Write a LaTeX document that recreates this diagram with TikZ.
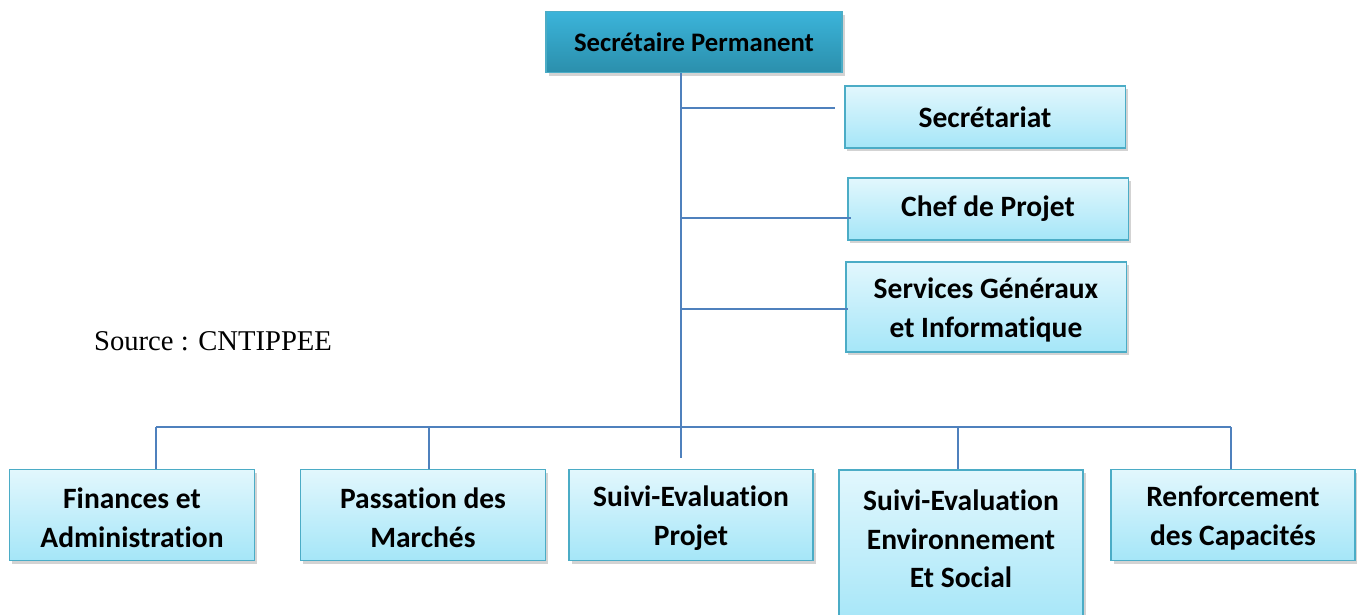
\documentclass[tikz,border=0pt]{standalone}
\usepackage{fontspec}
\setmainfont{Liberation Serif}
\newfontfamily\boxfont[Ligatures=NoCommon]{Carlito}
\usepackage{tikz}
\usetikzlibrary{shadows}
\definecolor{linkblue}{HTML}{4F81BD}
\definecolor{boxedge}{HTML}{4BACC6}
\definecolor{boxtop}{HTML}{E2F7FD}
\definecolor{boxbot}{HTML}{A5E6F8}
\definecolor{headtop}{HTML}{3BB4DA}
\definecolor{headbot}{HTML}{2B8FAC}
\tikzset{
  unit/.style={draw=boxedge, line width=1.1pt, top color=boxtop, bottom color=boxbot,
    align=center, inner sep=0pt,
    font=\boxfont\bfseries\fontsize{16.8pt}{22pt}\selectfont,
    drop shadow={shadow xshift=1.5pt, shadow yshift=-1.8pt, opacity=0.35}},
  twoline/.style={unit, text height=37pt},
  head/.style={unit, top color=headtop, bottom color=headbot,
    font=\boxfont\bfseries\fontsize{15.2pt}{19pt}\selectfont},
  link/.style={draw=linkblue, line width=1.1pt}
}

\begin{document}
\begin{tikzpicture}[x=0.02cm, y=-0.02cm]
    \useasboundingbox (0,0) rectangle (1357,615);
    % boxes
    \node[head, minimum width=5.92cm, minimum height=1.22cm] (sp) at (694,42) {Secrétaire Permanent};
    \node[unit, minimum width=5.62cm, minimum height=1.24cm] (sec) at (985,117) {Secrétariat};
    \node[unit, minimum width=5.62cm, minimum height=1.24cm] (chef) at (988,209) {Chef de Projet};
    \node[twoline, minimum width=5.62cm, minimum height=1.80cm] (sgi) at (986,307) {Services Généraux\\et Informatique};
    \node[twoline, minimum width=4.90cm, minimum height=1.82cm] (fin) at (132,515) {Finances et\\Administration};
    \node[twoline, minimum width=4.90cm, minimum height=1.82cm] (pm) at (423,515) {Passation des\\Marchés};
    \node[twoline, minimum width=4.88cm, minimum height=1.82cm] (sep) at (691,515) {Suivi-Evaluation\\Projet};
    \node[unit, minimum width=4.88cm, minimum height=3.10cm, anchor=north, text depth=10pt] (sees) at (961,469) {Suivi-Evaluation\\Environnement\\Et Social};
    \node[twoline, minimum width=4.88cm, minimum height=1.82cm] (ren) at (1233,515) {Renforcement\\des Capacités};
    \node[font=\fontsize{16.3pt}{19pt}\selectfont] (src) at (213,341) {Source : CNTIPPEE};
    % junction points
    \coordinate (tr) at (681,458);
    \coordinate (bSec) at (835,108);
    \coordinate (bChef) at (851,218);
    \coordinate (bSgi) at (848,309);
    \coordinate (busL) at (156,427);
    \coordinate (busR) at (1231,427);
    \coordinate (dPm) at (429,427);
    \coordinate (dSees) at (958,427);
    % connectors
    \draw[link] (sp.south -| tr) -- (tr);
    \draw[link] (tr |- bSec) -- (bSec);
    \draw[link] (tr |- bChef) -- (bChef);
    \draw[link] (tr |- bSgi) -- (bSgi);
    \draw[link] (busL) -- (busR);
    \draw[link] (busL) -- (busL |- fin.north);
    \draw[link] (dPm) -- (dPm |- pm.north);
    \draw[link] (dSees) -- (dSees |- sees.north);
    \draw[link] (busR) -- (busR |- ren.north);
\end{tikzpicture}
\end{document}
